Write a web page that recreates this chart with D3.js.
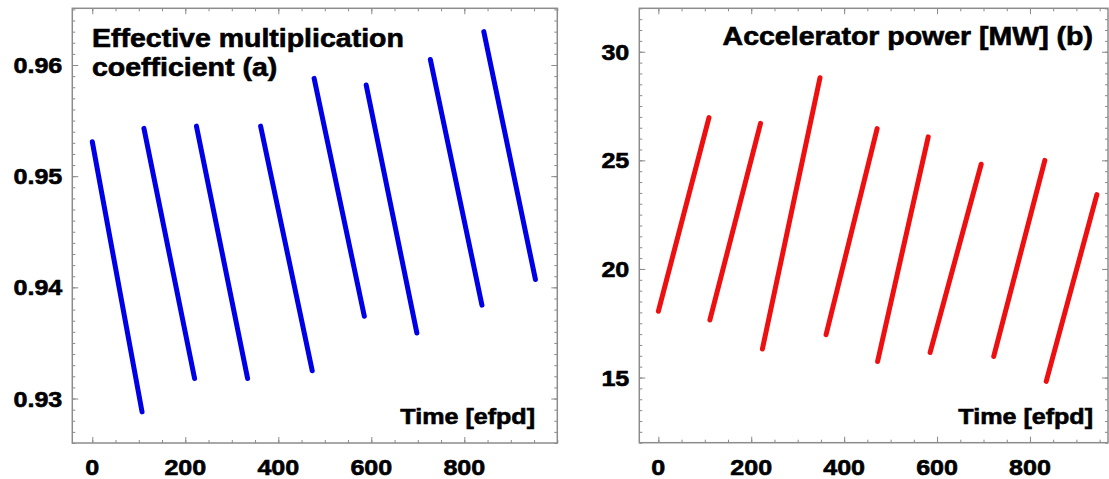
<!DOCTYPE html>
<html>
<head>
<meta charset="utf-8">
<script src="https://cdn.jsdelivr.net/npm/d3@7"></script>
<style>
  body { margin: 0; background: #fff; }
  svg text { font-family: "Liberation Sans", Arial, Helvetica, sans-serif; font-weight: bold; fill: #000;
             stroke: #000; stroke-width: 0.6px; }
</style>
</head>
<body>
<svg id="chart" width="1109" height="479"></svg>
<script>
// Fuel cycles: beginning and end of each cycle [efpd]
const keffCycleStart = [0, 111, 224, 362, 477, 589, 727, 842];
const keffCycleEnd   = [107, 220, 334, 473, 585, 698, 838, 953];
// Effective multiplication coefficient at beginning / end of each cycle
const keffBOC = [0.9531, 0.9543, 0.9545, 0.9545, 0.9588, 0.9582, 0.9605, 0.9630];
const keffEOC = [0.9288, 0.9318, 0.9318, 0.9325, 0.9374, 0.9359, 0.9384, 0.9407];

const powerCycleStart = [0, 111, 224, 361, 472, 585, 722, 835];
const powerCycleEnd   = [109, 220, 348, 471, 581, 695, 832, 944];
// Accelerator power [MW] at beginning / end of each cycle
const powerBOC = [18.05, 17.65, 16.31, 16.97, 15.74, 16.15, 15.97, 14.82];
const powerEOC = [26.97, 26.70, 28.80, 26.46, 26.08, 24.82, 25.00, 23.42];

// Tick labels
const timeTicks  = [0, 200, 400, 600, 800];
const keffTicks  = [0.93, 0.94, 0.95, 0.96];
const powerTicks = [15, 20, 25, 30];

const svg = d3.select("#chart");
const STRETCH = 1.14;   // horizontal widening of the bold lettering

function stretchedText(g, x, y, str, size, anchor) {
  return g.append("text")
    .attr("transform", `translate(${x},${y}) scale(${STRETCH},1)`)
    .attr("text-anchor", anchor)
    .style("font-size", size + "px")
    .text(str);
}

function panel(cfg) {
  const x = d3.scaleLinear().domain(cfg.xDomain).range([cfg.left, cfg.right]);
  const y = d3.scaleLinear().domain(cfg.yDomain).range([cfg.bottom, cfg.top]);
  const g = svg.append("g");

  const xMinor = d3.range(0, cfg.xDomain[1] + 1e-9, 50).filter(v => v > cfg.xDomain[0]);
  const yMinor = d3.range(Math.ceil(cfg.yDomain[0] / cfg.yMinorStep), Math.floor(cfg.yDomain[1] / cfg.yMinorStep) + 1)
                   .map(i => +(i * cfg.yMinorStep).toFixed(6));

  const tickColor = "#8a8a8a";
  function drawAxis(axis, transform) {
    g.append("g").attr("transform", transform).call(axis)
      .call(a => a.select(".domain").remove())
      .call(a => a.selectAll("line").attr("stroke", tickColor).attr("stroke-width", 1));
  }
  // inward-pointing ticks on all four sides
  drawAxis(d3.axisBottom(x).tickValues(xMinor).tickSize(-3).tickFormat(""), `translate(0,${cfg.bottom})`);
  drawAxis(d3.axisBottom(x).tickValues(timeTicks).tickSize(-6).tickFormat(""), `translate(0,${cfg.bottom})`);
  drawAxis(d3.axisTop(x).tickValues(xMinor).tickSize(-3).tickFormat(""), `translate(0,${cfg.top})`);
  drawAxis(d3.axisTop(x).tickValues(timeTicks).tickSize(-6).tickFormat(""), `translate(0,${cfg.top})`);
  drawAxis(d3.axisLeft(y).tickValues(yMinor).tickSize(-3).tickFormat(""), `translate(${cfg.left},0)`);
  drawAxis(d3.axisLeft(y).tickValues(cfg.yTicks).tickSize(-6).tickFormat(""), `translate(${cfg.left},0)`);
  drawAxis(d3.axisRight(y).tickValues(yMinor).tickSize(-3).tickFormat(""), `translate(${cfg.right},0)`);
  drawAxis(d3.axisRight(y).tickValues(cfg.yTicks).tickSize(-6).tickFormat(""), `translate(${cfg.right},0)`);

  // frame
  g.append("rect")
    .attr("x", cfg.left).attr("y", cfg.top)
    .attr("width", cfg.right - cfg.left).attr("height", cfg.bottom - cfg.top)
    .attr("fill", "none").attr("stroke", "#8c8c8c").attr("stroke-width", 1.5);

  // tick labels
  timeTicks.forEach(t => stretchedText(g, x(t), 475, String(t), 22, "middle"));
  cfg.yTicks.forEach(v => stretchedText(g, cfg.left - 10, y(v) + 8, cfg.yFormat(v), 22, "end"));

  // one straight segment per cycle
  const segs = cfg.start.map((s, i) => [[s, cfg.boc[i]], [cfg.end[i], cfg.eoc[i]]]);
  const line = d3.line().x(d => x(d[0])).y(d => y(d[1]));
  g.append("g").selectAll("path").data(segs).join("path")
    .attr("d", line)
    .attr("fill", "none")
    .attr("stroke", cfg.color)
    .attr("stroke-width", 5)
    .attr("stroke-linecap", "round");

  // titles
  cfg.title.forEach(t => stretchedText(g, t.x, t.y, t.text, 25, t.anchor));
  stretchedText(g, cfg.timeLabelX, 424, "Time [efpd]", 22, "end");
}

panel({
  left: 72.3, right: 557.3, top: 8.3, bottom: 443,
  xDomain: [-43, 1000], yDomain: [0.926, 0.9651],
  yTicks: keffTicks, yMinorStep: 0.001, yFormat: d3.format(".2f"),
  start: keffCycleStart, end: keffCycleEnd, boc: keffBOC, eoc: keffEOC,
  color: "#0000e6",
  title: [
    { text: "Effective multiplication", x: 92, y: 47, anchor: "start" },
    { text: "coefficient (a)", x: 92, y: 76, anchor: "start" }
  ],
  timeLabelX: 535
});

panel({
  left: 639.3, right: 1108, top: 8.3, bottom: 442.7,
  xDomain: [-41, 968], yDomain: [12, 32],
  yTicks: powerTicks, yMinorStep: 0.5, yFormat: d3.format("d"),
  start: powerCycleStart, end: powerCycleEnd, boc: powerBOC, eoc: powerEOC,
  color: "#ee1010",
  title: [
    { text: "Accelerator power [MW] (b)", x: 1093, y: 45, anchor: "end" }
  ],
  timeLabelX: 1093
});
</script>
</body>
</html>
